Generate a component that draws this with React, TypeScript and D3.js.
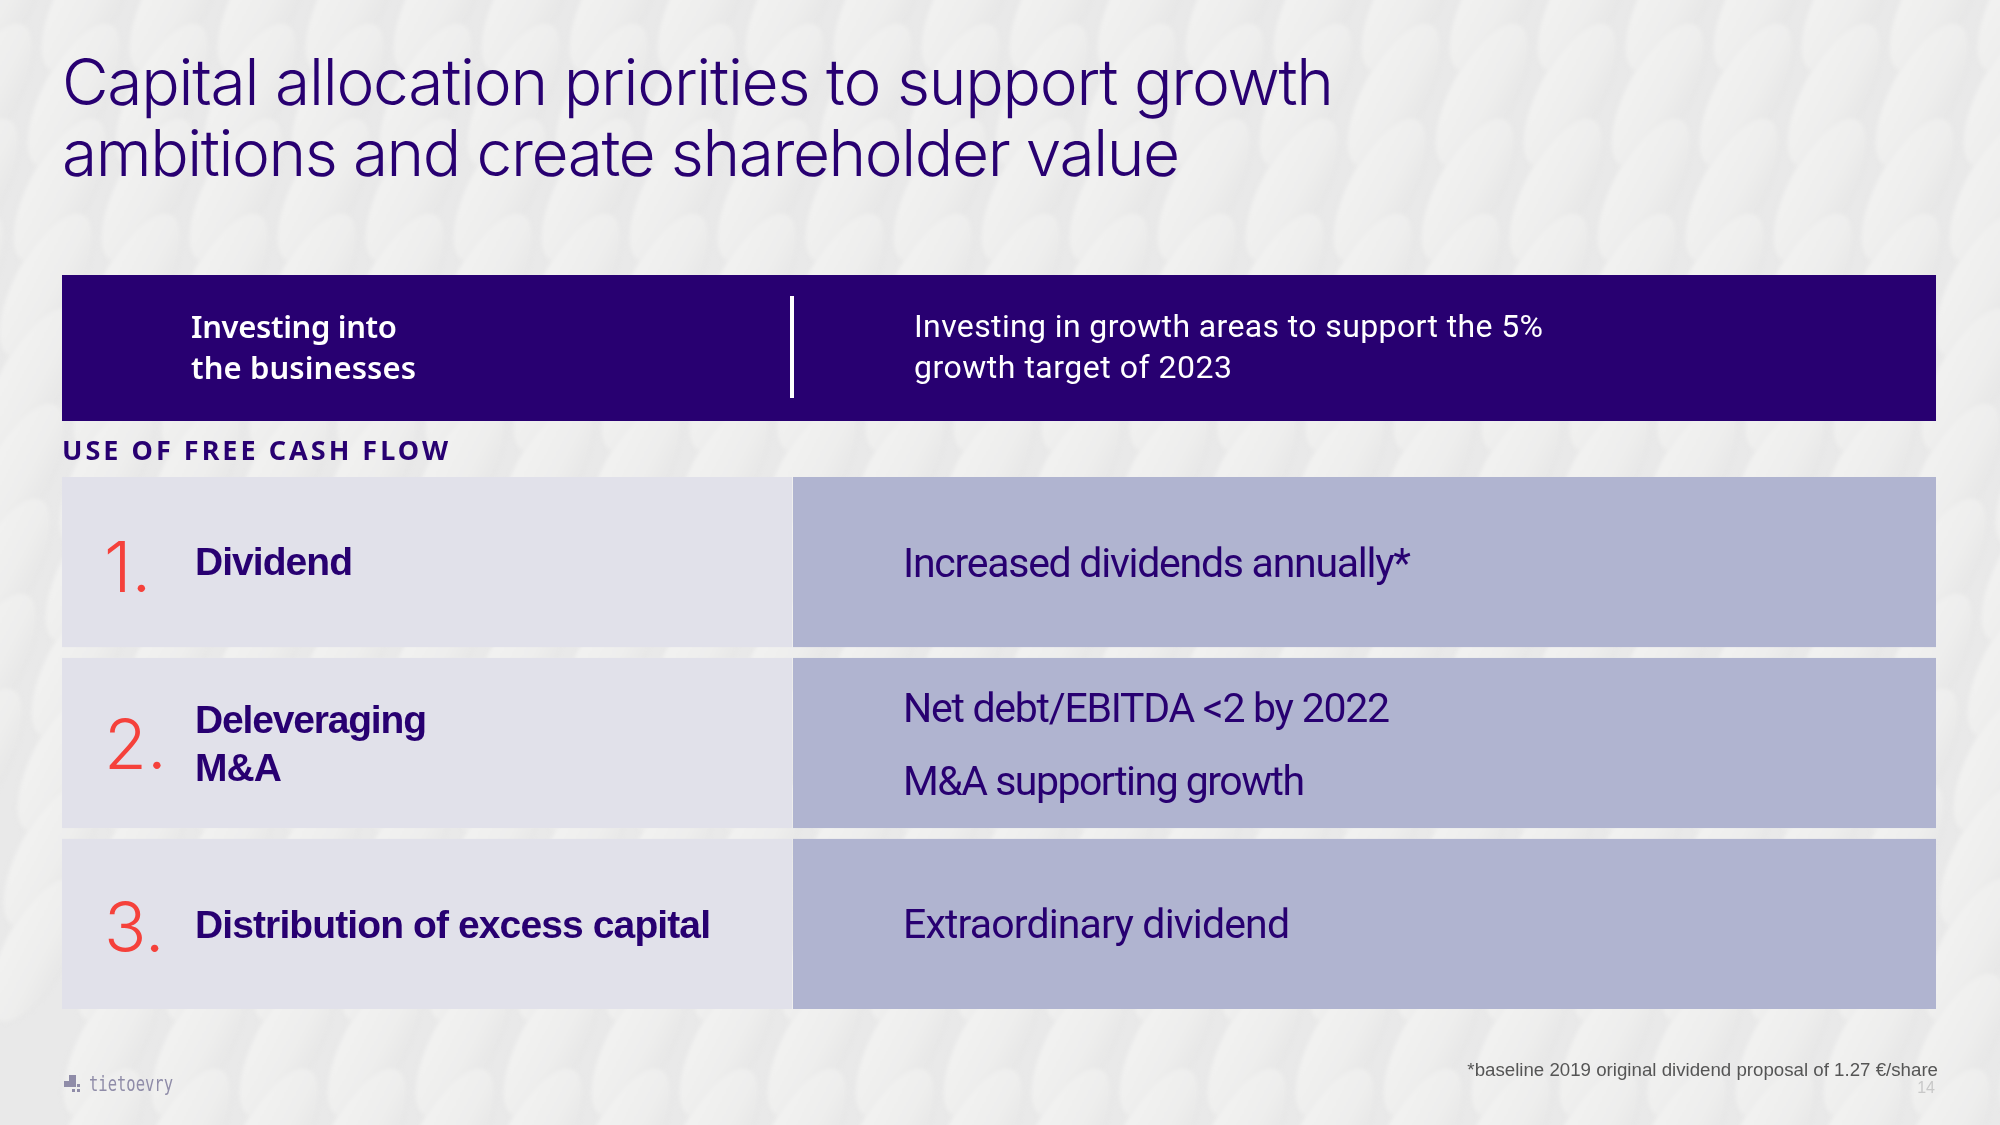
import React from 'react';
import * as d3 from 'd3';

const W = 2000;
const H = 1125;

// ---- content ----
const titleLines = ['Capital allocation priorities to support growth', 'ambitions and create shareholder value'];
const headerLeft = ['Investing into', 'the businesses'];
const headerRight = ['Investing in growth areas to support the 5%', 'growth target of 2023'];
const sectionLabel = 'USE OF FREE CASH FLOW';
const priorityNumbers = ['1.', '2.', '3.'];
const priorityLabels = [['Dividend'], ['Deleveraging', 'M&A'], ['Distribution of excess capital']];
const priorityDescriptions = [
  ['Increased dividends annually*'],
  ['Net debt/EBITDA <2 by 2022', 'M&A supporting growth'],
  ['Extraordinary dividend'],
];
const footnote = '*baseline 2019 original dividend proposal of 1.27 €/share';
const pageNumber = '14';
const brand = 'tietoevry';

// ---- presentation (fitted widths) ----
const fitWidth: Record<string, number> = {
  'Capital allocation priorities to support growth': 1272,
  'ambitions and create shareholder value': 1118,
  'Investing into': 206,
  'the businesses': 225,
  'Investing in growth areas to support the 5%': 629,
  'growth target of 2023': 318,
  'USE OF FREE CASH FLOW': 386,
  Dividend: 158,
  Deleveraging: 232,
  'M&A': 87,
  'Distribution of excess capital': 516,
  'Increased dividends annually*': 508,
  'Net debt/EBITDA <2 by 2022': 487,
  'M&A supporting growth': 402,
  'Extraordinary dividend': 387,
};

const PURPLE = '#280071';
const RED = '#F5413B';
const LEFT_CELL = '#E1E1EA';
const RIGHT_CELL = '#B0B4D0';

const labelOffsets = [[98], [75, 123], [99]];
const descOffsets = [[100], [64, 137], [99]];
const numberOffsets = [115, 111, 113];

export default function App() {
  const x = d3.scaleLinear().domain([0, 1]).range([62, 1936]);
  const splitX = 792;
  const rowScale = d3
    .scaleBand<number>()
    .domain(d3.range(priorityNumbers.length))
    .range([477, 1009])
    .paddingInner(0.06);
  const bw = rowScale.bandwidth();

  const fit = (t: string) =>
    fitWidth[t] ? { textLength: fitWidth[t], lengthAdjust: 'spacing' as const } : {};

  const cols = d3.range(-3, 26);
  const rws = d3.range(-2, 14);

  return (
    <svg
      width={W}
      height={H}
      viewBox={`0 0 ${W} ${H}`}
      style={{ position: 'fixed', left: 0, top: 0, display: 'block' }}
    >
      <defs>
        <linearGradient id="grain" x1="0" y1="0" x2="1" y2="0">
          <stop offset="0" stopColor="#f2f2f1" />
          <stop offset="0.6" stopColor="#eeeeed" />
          <stop offset="1" stopColor="#e7e7e7" />
        </linearGradient>
        <filter id="blur" x="-20%" y="-20%" width="140%" height="140%">
          <feGaussianBlur stdDeviation="2" />
        </filter>
      </defs>
      <rect x={0} y={0} width={W} height={H} fill="#e9e9e9" />
      <g filter="url(#blur)">
        {rws.map((r) =>
          cols.map((c) => {
            const cx = c * 88 + (r % 2 ? 44 : 0) + r * 30;
            const cy = r * 95;
            return (
              <ellipse
                key={`${r}-${c}`}
                cx={cx}
                cy={cy}
                rx={32}
                ry={80}
                transform={`rotate(28 ${cx} ${cy})`}
                fill="url(#grain)"
                stroke="#e4e4e4"
                strokeWidth={1}
              />
            );
          })
        )}
      </g>

      {/* title */}
      {titleLines.map((t, i) => (
        <text
          key={t}
          x={62}
          y={105 + i * 71}
          fontFamily="Inter, 'Noto Sans', sans-serif"
          fontWeight={300}
          fontSize={64}
          fill={PURPLE}
          {...fit(t)}
        >
          {t}
        </text>
      ))}

      {/* header band */}
      <rect x={x(0)} y={275} width={x(1) - x(0)} height={146} fill={PURPLE} />
      <rect x={splitX - 2} y={296} width={4} height={102} fill="#ffffff" />
      {headerLeft.map((t, i) => (
        <text
          key={t}
          x={191}
          y={338 + i * 41}
          fontFamily="'Noto Sans', sans-serif"
          fontWeight={600}
          fontSize={31}
          fill="#ffffff"
          {...fit(t)}
        >
          {t}
        </text>
      ))}
      {headerRight.map((t, i) => (
        <text
          key={t}
          x={914}
          y={337 + i * 41}
          fontFamily="Roboto, 'Noto Sans', sans-serif"
          fontWeight={400}
          fontSize={32}
          fill="#ffffff"
          {...fit(t)}
        >
          {t}
        </text>
      ))}

      {/* section label */}
      <text
        x={62}
        y={460}
        fontFamily="'Noto Sans', sans-serif"
        fontWeight={700}
        fontSize={27}
        fill={PURPLE}
        {...fit(sectionLabel)}
      >
        {sectionLabel}
      </text>

      {/* priority rows */}
      {priorityNumbers.map((n, i) => {
        const y0 = rowScale(i) as number;
        return (
          <g key={n}>
            <rect x={x(0)} y={y0} width={splitX - x(0)} height={bw} fill={LEFT_CELL} />
            <rect x={splitX + 1} y={y0} width={x(1) - splitX - 1} height={bw} fill={RIGHT_CELL} />
            <text
              x={104}
              y={y0 + numberOffsets[i]}
              fontFamily="Inter, 'Noto Sans', sans-serif"
              fontWeight={300}
              fontSize={70}
              fill={RED}
            >
              {n}
            </text>
            {priorityLabels[i].map((t, j) => (
              <text
                key={t}
                x={195}
                y={y0 + labelOffsets[i][j]}
                fontFamily="'Liberation Sans', Arial, sans-serif"
                fontWeight={700}
                fontSize={39}
                fill={PURPLE}
                {...fit(t)}
              >
                {t}
              </text>
            ))}
            {priorityDescriptions[i].map((t, j) => (
              <text
                key={t}
                x={903}
                y={y0 + descOffsets[i][j]}
                fontFamily="Roboto, 'Noto Sans', sans-serif"
                fontWeight={400}
                fontSize={41}
                fill={PURPLE}
                {...fit(t)}
              >
                {t}
              </text>
            ))}
          </g>
        );
      })}

      {/* footer */}
      <text
        x={1938}
        y={1076}
        textAnchor="end"
        fontFamily="'Liberation Sans', Arial, sans-serif"
        fontSize={18.7}
        fill="#555555"
      >
        {footnote}
      </text>
      <text
        x={1935}
        y={1093}
        textAnchor="end"
        fontFamily="'Liberation Sans', Arial, sans-serif"
        fontSize={16}
        fill="#c8c8c8"
      >
        {pageNumber}
      </text>
      <g fill="#8f8ca8">
        <rect x={69} y={1075} width={7} height={6} />
        <rect x={64} y={1081} width={12} height={6} />
        <rect x={77} y={1084} width={3} height={3} />
        <rect x={72} y={1089} width={3} height={3} />
        <rect x={77} y={1089} width={3} height={3} />
      </g>
      <text
        x={89}
        y={1091}
        fontFamily="'DejaVu Sans Mono', monospace"
        fontSize={22}
        fill="#8f8ca8"
        textLength={84}
        lengthAdjust="spacingAndGlyphs"
      >
        {brand}
      </text>
    </svg>
  );
}
